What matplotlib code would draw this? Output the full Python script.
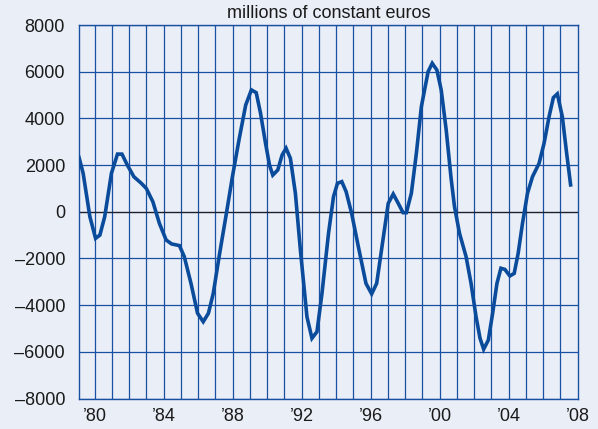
import matplotlib
matplotlib.use("Agg")
import matplotlib.pyplot as plt
from matplotlib.ticker import FixedLocator, FuncFormatter

years = [1979.10, 1979.34, 1979.73, 1980.06, 1980.31, 1980.59, 1980.98, 1981.33, 1981.59, 1981.90,
         1982.28, 1982.71, 1983.00, 1983.38, 1983.76, 1984.15, 1984.47, 1984.92, 1985.20, 1985.59,
         1985.97, 1986.30, 1986.60, 1986.88, 1987.22, 1987.61, 1987.99, 1988.37, 1988.76, 1989.09,
         1989.37, 1989.62, 1989.91, 1990.14, 1990.33, 1990.62, 1990.87, 1991.10, 1991.35, 1991.64,
         1991.93, 1992.31, 1992.60, 1992.89, 1993.18, 1993.56, 1993.85, 1994.08, 1994.33, 1994.58,
         1994.90, 1995.29, 1995.73, 1996.06, 1996.35, 1996.63, 1997.02, 1997.31, 1997.60, 1997.88,
         1998.07, 1998.36, 1998.65, 1998.94, 1999.33, 1999.57, 1999.84, 2000.09, 2000.38, 2000.66,
         2000.86, 2001.15, 2001.53, 2001.82, 2002.11, 2002.34, 2002.55, 2002.82, 2003.07, 2003.32,
         2003.55, 2003.78, 2004.07, 2004.32, 2004.55, 2004.80, 2005.09, 2005.38, 2005.76, 2006.05,
         2006.34, 2006.59, 2006.82, 2007.11, 2007.36, 2007.59]
values = [2330, 1650, -210, -1140, -1000, -210, 1650, 2470, 2470, 2000,
          1500, 1220, 1000, 430, -500, -1210, -1380, -1450, -1920, -3070,
          -4350, -4710, -4350, -3500, -1920, -210, 1500, 3070, 4570, 5220,
          5100, 4220, 2930, 2000, 1570, 1790, 2430, 2720, 2290, 790,
          -1640, -4500, -5420, -5140, -3500, -920, 650, 1220, 1290, 860,
          -70, -1500, -3070, -3520, -3070, -1640, 360, 760, 360, -40,
          -40, 790, 2500, 4500, 6000, 6360, 6070, 5220, 3500, 1450,
          220, -920, -1920, -3070, -4500, -5420, -5890, -5500, -4350, -3070,
          -2420, -2470, -2750, -2640, -1780, -500, 790, 1500, 2070, 2930,
          4070, 4890, 5050, 4070, 2500, 1150]

y_ticks = [-8000, -6000, -4000, -2000, 0, 2000, 4000, 6000, 8000]
x_grid_years = list(range(1980, 2008))
x_label_years = [1980, 1984, 1988, 1992, 1996, 2000, 2004, 2008]
title = "millions of constant euros"

BG = "#e9eef7"
GRID = "#1a50a2"
LINE = "#0a4b9b"

plt.rcParams['font.family'] = ['Liberation Sans', 'DejaVu Sans']

fig = plt.figure(figsize=(5.98, 4.29), dpi=100, facecolor=BG)
ax = fig.add_axes([79/598, 1 - 398.5/429, (577.7 - 79)/598, (398.5 - 25)/429])
ax.set_facecolor(BG)

ax.set_xlim(1979.1, 2008.0)
ax.set_ylim(-8000, 8000)

for yr in x_grid_years:
    ax.axvline(yr, color=GRID, lw=0.9, zorder=1)
for yv in y_ticks:
    if yv != 0:
        ax.axhline(yv, color=GRID, lw=0.9, zorder=1)
ax.axhline(0, color="#1b1f2e", lw=1.0, zorder=2)

ax.plot(years, values, color=LINE, lw=2.6, zorder=3, solid_joinstyle='miter')

ax.set_yticks(y_ticks)
ax.yaxis.set_major_formatter(FuncFormatter(lambda v, p: f"{int(v)}".replace("-", "\u2013")))
ax.xaxis.set_major_locator(FixedLocator(x_label_years))
ax.xaxis.set_major_formatter(FuncFormatter(lambda v, p: "\u2019" + f"{int(round(v)) % 100:02d}"))
ax.tick_params(axis='both', length=0, labelsize=13, colors="#1a1a1a")
ax.tick_params(axis='y', pad=10)
ax.tick_params(axis='x', pad=7)

for s in ax.spines.values():
    s.set_color(GRID)
    s.set_linewidth(1.0)

fig.text((79 + 577.7) / 2 / 598, 1 - 14/429, title, ha='center', va='center',
         fontsize=13, color="#1a1a1a")

fig.savefig("out.png", dpi=100, facecolor=BG)
